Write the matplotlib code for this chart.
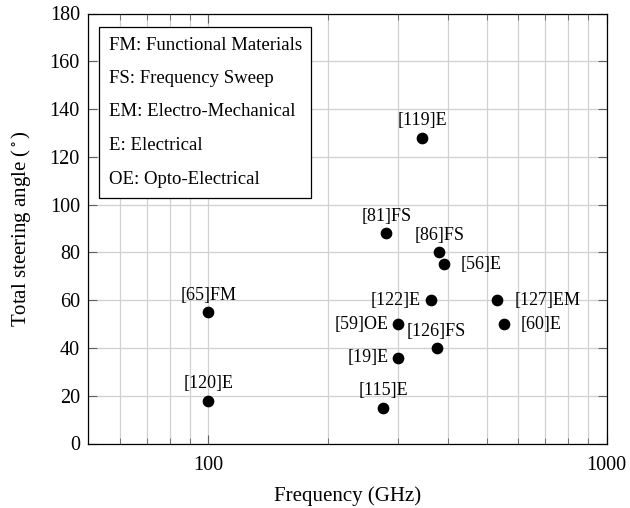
import matplotlib
matplotlib.use("Agg")
import matplotlib.pyplot as plt
from matplotlib.patches import Rectangle
from matplotlib.ticker import FixedLocator, NullFormatter

plt.rcParams['font.family'] = ['Liberation Serif', 'DejaVu Serif']
plt.rcParams['mathtext.fontset'] = 'stix'

# data
refs = ['[119]E', '[81]FS', '[86]FS', '[56]E', '[65]FM', '[122]E', '[127]EM',
        '[59]OE', '[60]E', '[126]FS', '[19]E', '[120]E', '[115]E']
freq = [344, 280, 380, 391, 100, 362, 532, 300, 552, 374, 300, 100, 275]
angle = [128, 88, 80, 75, 55, 60, 60, 50, 50, 40, 36, 18, 15]
label_side = ['top', 'top', 'top', 'right', 'top', 'left', 'right',
              'left', 'right', 'top', 'left', 'top', 'top']

legend_lines = ['FM: Functional Materials', 'FS: Frequency Sweep',
                'EM: Electro-Mechanical', 'E: Electrical', 'OE: Opto-Electrical']

fig = plt.figure(figsize=(6.3, 5.08), dpi=100)
ax = fig.add_axes([88.3/630, 64.5/508, 518.4/630, 430/508])

ax.scatter(freq, angle, s=55, color='black', zorder=3)

for r, f, a, side in zip(refs, freq, angle, label_side):
    if side == 'top':
        ax.annotate(r, (f, a), xytext=(0, 6), textcoords='offset points',
                    ha='center', va='bottom', fontsize=13)
    elif side == 'left':
        ax.annotate(r, (f, a), xytext=(-7, 0), textcoords='offset points',
                    ha='right', va='center', fontsize=13)
    else:
        ax.annotate(r, (f, a), xytext=(12, 0), textcoords='offset points',
                    ha='left', va='center', fontsize=13)

ax.set_xscale('log')
ax.set_xlim(50, 1000)
ax.set_ylim(0, 180)
ax.xaxis.set_major_locator(FixedLocator([100, 1000]))
ax.xaxis.set_minor_locator(FixedLocator([50, 60, 70, 80, 90, 200, 300, 400, 500, 600, 700, 800, 900]))
ax.xaxis.set_minor_formatter(NullFormatter())
ax.set_xticklabels(['100', '1000'])
ax.set_yticks(range(0, 181, 20))

ax.tick_params(which='both', direction='in', top=True, right=True, labelsize=14.5,
               color='#606060')
ax.tick_params(which='major', length=6.5, width=0.8)
ax.tick_params(which='minor', length=4.5, width=0.6)
ax.tick_params(axis='x', pad=9)
ax.tick_params(axis='y', pad=6)
ax.grid(which='both', color='#d0d0d0', linewidth=0.9)
ax.set_axisbelow(True)
for s in ax.spines.values():
    s.set_linewidth(0.9)

ax.set_xlabel('Frequency (GHz)', fontsize=15, labelpad=8)
ax.set_ylabel(r'Total steering angle ($^\circ$)', fontsize=15, labelpad=12)

# legend box (pixel layout of the reference)
box = Rectangle(((99.3 - 88.3) / 518.4, (443.5 - 198) / 430), 212 / 518.4, 171 / 430,
                transform=ax.transAxes, facecolor='white', edgecolor='black',
                linewidth=0.9, zorder=4)
ax.add_patch(box)
for i, line in enumerate(legend_lines):
    ypx = 45 + 33.5 * i
    ax.text((109 - 88.3) / 518.4, (443.5 - ypx) / 430, line, transform=ax.transAxes,
            ha='left', va='center', fontsize=13.5, zorder=5)

fig.savefig('out.png', dpi=100)
